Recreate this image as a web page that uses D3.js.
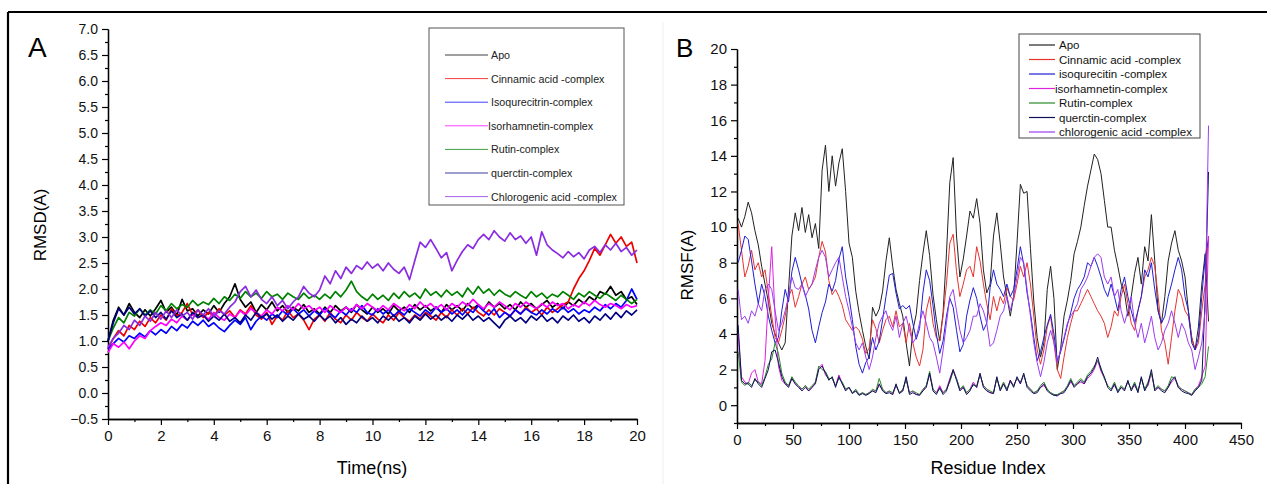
<!DOCTYPE html>
<html><head><meta charset="utf-8">
<script src="https://cdn.jsdelivr.net/npm/d3@7"></script>
<style>
body{margin:0;background:#fff;}
svg{display:block;font-family:"Liberation Sans",Arial,sans-serif;}
</style>
</head><body>
<svg id="c" width="1267" height="484"></svg>
<script>
// ---------- Panel A: RMSD (time step 0.2 ns, 0..20 ns) ----------
const rmsdNames = ["Apo","Cinnamic acid -complex","Isoqurecitrin-complex","Isorhamnetin-complex","Rutin-complex","querctin-complex","Chlorogenic acid -complex"];
const rmsdTimeStep = 0.2;
const rmsdApo = [1.00,1.40,1.65,1.50,1.72,1.55,1.45,1.60,1.48,1.62, 1.78,1.55,1.65,1.50,1.80,1.58,1.62,1.48,1.60,1.52, 1.68,1.55,1.72,1.85,2.10,1.80,1.65,1.75,1.55,1.70, 1.60,1.75,1.58,1.68,1.55,1.65,1.58,1.70,1.55,1.62, 1.52,1.65,1.55,1.68,1.58,1.65,1.55,1.70,1.60,1.52, 1.65,1.55,1.62,1.52,1.68,1.58,1.65,1.55,1.70,1.60, 1.68,1.58,1.65,1.55,1.70,1.60,1.68,1.58,1.72,1.62, 1.70,1.60,1.75,1.65,1.72,1.62,1.70,1.60,1.75,1.65, 1.72,1.62,1.70,1.78,1.65,1.72,1.62,1.75,1.68,1.80, 1.72,1.85,1.78,1.95,1.90,2.05,1.88,1.95,1.80,1.85, 1.70];
const rmsdCinnamic = [0.85,1.05,1.20,1.10,1.30,1.22,1.38,1.28,1.45,1.35, 1.50,1.40,1.62,1.48,1.55,1.72,1.50,1.60,1.45,1.55, 1.48,1.62,1.50,1.58,1.45,1.60,1.52,1.68,1.50,1.42, 1.55,1.32,1.48,1.40,1.58,1.45,1.52,1.40,1.22,1.42, 1.50,1.38,1.55,1.42,1.35,1.50,1.40,1.55,1.45,1.38, 1.52,1.42,1.35,1.50,1.40,1.55,1.45,1.38,1.50,1.42, 1.55,1.48,1.40,1.55,1.45,1.60,1.50,1.62,1.52,1.65, 1.55,1.48,1.60,1.50,1.62,1.55,1.48,1.60,1.52,1.65, 1.55,1.62,1.50,1.65,1.55,1.62,1.70,1.75,2.00,2.20, 2.35,2.55,2.78,2.65,2.85,3.05,2.88,3.00,2.82,2.90, 2.50];
const rmsdIsoquercitrin = [0.85,0.95,1.05,0.98,1.10,1.05,1.15,1.08,1.20,1.12, 1.22,1.15,1.28,1.20,1.32,1.25,1.38,1.30,1.40,1.28, 1.35,1.25,1.18,1.30,1.40,1.32,1.45,1.22,1.38,1.48, 1.40,1.52,1.45,1.58,1.50,1.62,1.52,1.60,1.48,1.58, 1.50,1.62,1.52,1.45,1.58,1.50,1.62,1.55,1.68,1.55, 1.50,1.62,1.52,1.60,1.48,1.58,1.50,1.62,1.55,1.48, 1.60,1.52,1.65,1.55,1.62,1.52,1.60,1.50,1.62,1.55, 1.68,1.58,1.50,1.62,1.45,1.55,1.48,1.60,1.52,1.62, 1.55,1.50,1.60,1.52,1.62,1.55,1.65,1.55,1.62,1.52, 1.60,1.55,1.65,1.58,1.70,1.62,1.72,1.65,1.78,2.00, 1.80];
const rmsdIsorhamnetin = [0.78,0.95,0.88,0.98,0.85,1.00,1.10,1.05,1.20,1.28, 1.35,1.30,1.42,1.35,1.48,1.40,1.52,1.45,1.50,1.42, 1.55,1.45,1.40,1.52,1.45,1.58,1.50,1.62,1.55,1.48, 1.60,1.52,1.65,1.58,1.68,1.60,1.72,1.62,1.68,1.58, 1.65,1.55,1.68,1.60,1.55,1.65,1.58,1.70,1.62,1.72, 1.65,1.58,1.68,1.60,1.72,1.65,1.58,1.70,1.62,1.75, 1.65,1.72,1.62,1.70,1.60,1.72,1.65,1.75,1.68,1.80, 1.70,1.62,1.72,1.65,1.75,1.68,1.60,1.72,1.65,1.75, 1.68,1.62,1.72,1.65,1.75,1.68,1.72,1.62,1.70,1.65, 1.75,1.68,1.78,1.70,1.65,1.72,1.68,1.62,1.70,1.65, 1.68];
const rmsdRutin = [1.00,1.25,1.45,1.35,1.55,1.48,1.62,1.50,1.60,1.52, 1.68,1.58,1.72,1.62,1.70,1.65,1.78,1.68,1.75,1.70, 1.82,1.72,1.85,1.78,1.90,1.82,1.95,1.85,1.92,1.82, 1.95,1.85,1.90,1.80,1.92,1.85,1.80,1.92,1.82,1.88, 1.80,1.90,1.82,1.95,1.85,1.98,2.15,1.95,1.85,1.78, 1.90,1.80,1.88,1.78,1.92,1.82,1.95,1.85,1.92,1.82, 2.00,1.88,1.95,1.85,1.98,1.88,1.95,1.85,2.02,1.90, 2.05,1.92,2.00,1.88,1.98,1.90,1.85,1.95,1.88,1.82, 1.95,1.85,1.92,1.82,1.90,1.85,1.95,1.88,1.80,1.92, 1.85,1.95,1.88,1.82,1.92,1.85,1.78,1.88,1.80,1.72, 1.80];
const rmsdQuerctin = [1.00,1.35,1.62,1.50,1.65,1.52,1.62,1.48,1.58,1.45, 1.55,1.42,1.58,1.45,1.52,1.40,1.55,1.45,1.50,1.38, 1.48,1.40,1.52,1.38,1.45,1.35,1.50,1.40,1.55,1.45, 1.52,1.42,1.50,1.38,1.48,1.40,1.52,1.42,1.48,1.38, 1.50,1.40,1.48,1.35,1.45,1.32,1.42,1.35,1.48,1.38, 1.45,1.35,1.48,1.40,1.50,1.38,1.45,1.35,1.48,1.40, 1.52,1.42,1.50,1.40,1.48,1.38,1.50,1.42,1.52,1.40, 1.48,1.38,1.45,1.35,1.25,1.40,1.48,1.38,1.45,1.35, 1.48,1.40,1.50,1.38,1.45,1.35,1.48,1.40,1.50,1.38, 1.45,1.35,1.48,1.40,1.52,1.42,1.55,1.45,1.58,1.50, 1.60];
const rmsdChlorogenic = [0.88,1.05,1.15,1.30,1.22,1.40,1.30,1.48,1.38,1.55, 1.42,1.58,1.45,1.60,1.48,1.55,1.42,1.60,1.50,1.62, 1.48,1.58,1.52,1.65,1.75,1.95,2.05,1.85,1.98,1.80, 1.72,1.85,1.68,1.78,1.62,1.75,1.85,2.05,1.92,1.85, 1.98,2.25,2.10,2.35,2.20,2.42,2.30,2.45,2.38,2.52, 2.40,2.48,2.35,2.50,2.38,2.30,2.42,2.18,2.55,2.90, 2.80,2.95,2.78,2.60,2.70,2.35,2.55,2.72,2.85,2.78, 2.95,3.05,2.95,3.12,3.00,2.92,3.08,2.95,3.02,2.88, 3.00,2.65,3.10,2.85,2.75,2.68,2.60,2.72,2.62,2.70, 2.58,2.75,2.82,2.70,2.85,2.75,2.88,2.72,2.80,2.65, 2.75];
const rmsdYTicks = [-0.5,0.0,0.5,1.0,1.5,2.0,2.5,3.0,3.5,4.0,4.5,5.0,5.5,6.0,6.5,7.0];
const rmsdXTicks = [0,2,4,6,8,10,12,14,16,18,20];

// ---------- Panel B: RMSF (residue 1, 4, 7, ... 421) ----------
const rmsfNames = ["Apo","Cinnamic acid -complex","isoqurecitin -complex","isorhamnetin-complex","Rutin-complex","querctin-complex","chlorogenic acid -complex"];
const rmsfResStart = 1, rmsfResStep = 3;
const rmsfApo = [10.5,10.0,10.6,11.4,10.8,9.8,9.0,7.8,6.8,5.8, 4.6,4.0,3.5,3.1,3.5,6.5,9.5,10.8,9.8,11.1, 9.7,10.7,9.4,10.2,8.8,13.2,14.6,12.0,14.0,12.3, 13.6,14.4,12.0,9.1,8.3,6.4,5.2,4.2,3.3,2.6, 5.5,5.0,5.4,6.4,8.1,9.4,7.8,6.5,5.7,5.0, 3.5,2.2,4.2,5.1,7.0,8.5,9.8,8.4,6.2,4.8, 3.6,5.2,8.5,12.5,13.9,9.5,7.2,8.2,9.5,10.9, 10.5,11.6,10.2,7.6,6.3,6.8,9.5,10.8,9.1,7.2, 6.1,5.0,6.1,9.1,12.4,11.9,12.0,8.8,5.8,3.8, 2.7,3.5,6.5,7.8,6.0,2.0,3.2,5.0,5.9,7.0, 8.5,9.2,10.0,11.2,12.3,13.2,14.1,13.8,13.0,11.5, 10.0,10.0,8.7,7.8,6.8,6.3,5.0,6.1,7.4,8.3, 6.8,8.9,8.1,10.7,8.1,5.3,4.6,6.1,8.1,9.1, 9.8,8.7,8.1,7.2,5.3,3.8,3.1,4.4,6.8,8.5, 4.7];
const rmsfCinnamic = [10.2,8.7,7.2,7.8,8.7,7.6,8.0,7.2,7.6,6.3, 5.0,3.8,3.5,4.2,5.0,6.1,6.5,5.5,6.1,6.8, 7.2,6.5,6.8,7.2,8.3,9.2,8.6,7.0,6.2,6.5, 6.1,5.6,4.8,4.5,4.2,4.4,4.2,3.7,2.9,3.2, 4.8,4.3,3.5,4.2,4.8,5.0,4.4,5.3,4.4,4.6, 3.5,4.6,3.5,2.7,2.2,3.1,5.3,6.1,4.6,3.8, 3.6,5.0,6.8,9.1,9.6,7.5,6.1,6.8,7.6,7.8, 7.2,8.9,8.1,6.8,5.7,4.8,6.1,5.3,6.1,5.7, 6.6,6.1,5.9,6.8,7.8,7.2,8.0,6.8,5.0,3.1, 2.3,3.1,4.4,5.0,3.5,2.0,1.5,2.7,3.8,4.6, 5.3,5.3,5.7,6.1,6.5,6.1,5.7,5.3,5.0,4.6, 3.8,4.4,5.3,5.0,6.1,6.8,5.7,4.6,4.2,5.3, 6.1,7.2,7.6,8.3,7.8,6.1,4.2,3.5,2.3,3.8, 5.3,6.5,6.1,5.3,5.0,3.8,3.1,3.5,5.3,6.8, 9.5];
const rmsfIsoqurecitin = [8.0,8.7,9.5,9.3,8.1,6.8,5.7,6.8,6.1,5.0, 4.2,3.5,3.8,5.3,6.5,5.8,7.5,8.3,7.6,6.8, 6.2,5.4,4.2,3.5,4.4,5.2,5.8,6.8,6.4,7.0, 8.2,8.9,7.2,6.1,4.8,3.3,2.3,1.8,2.4,2.7, 3.8,3.1,3.6,4.8,6.1,7.3,7.4,6.3,5.4,5.6, 5.4,5.6,4.6,3.7,4.3,6.3,7.6,7.0,5.6,4.0, 2.9,3.6,5.0,6.0,5.5,4.2,3.0,3.4,5.0,5.9, 6.6,6.0,5.0,4.2,4.6,6.6,7.6,6.8,6.5,6.1, 6.8,6.1,6.5,7.6,8.9,7.9,6.3,5.2,3.8,2.5, 3.0,3.8,4.5,5.1,4.0,2.5,3.0,3.7,4.5,5.2, 6.0,6.5,6.8,7.2,8.0,7.8,8.3,7.8,7.2,6.5, 6.1,6.8,6.1,5.3,6.5,7.2,6.1,5.3,4.6,5.3, 6.1,7.6,7.2,8.0,6.5,5.3,4.6,5.0,6.1,6.8, 7.6,8.3,7.6,6.1,5.3,3.5,3.1,3.8,6.1,8.3, 9.3];
const rmsfIsorhamnetin = [4.0,1.6,1.3,1.2,1.8,2.0,1.3,1.2,2.5,6.0, 8.9,5.0,2.2,1.4,1.2,1.1,1.5,1.2,1.0,0.9, 1.1,0.8,1.0,1.3,2.1,2.3,1.7,1.5,1.5,1.1, 1.7,1.2,0.9,1.0,0.7,0.8,0.6,0.7,0.6,0.7, 0.8,0.8,1.1,0.9,0.7,0.8,0.6,1.1,0.7,0.8, 1.5,0.7,0.8,0.6,0.6,0.8,1.1,1.7,0.9,0.7, 1.1,0.7,0.9,1.5,2.0,1.5,0.9,1.0,0.7,0.9, 1.3,1.0,1.7,1.1,0.9,0.7,0.7,1.5,0.9,1.2, 0.9,1.4,1.1,1.5,1.2,1.7,1.1,0.9,0.7,0.8, 1.0,1.1,0.9,0.7,0.6,0.5,0.7,0.8,1.0,1.3, 1.1,1.2,1.3,1.2,1.5,1.7,2.0,2.5,1.9,1.5, 1.1,0.9,1.1,0.8,1.0,0.9,1.3,0.9,1.1,0.8, 1.5,0.9,1.1,1.8,0.9,1.0,0.9,0.8,1.0,1.3, 1.5,1.0,0.9,0.8,0.7,0.6,0.9,1.1,1.6,2.2, 9.5];
const rmsfRutin = [3.0,1.3,1.1,1.3,1.1,1.4,1.3,1.1,1.6,2.3, 2.6,3.5,2.9,1.8,1.3,1.1,1.6,1.3,1.1,0.9, 1.1,0.9,1.1,1.3,2.2,2.0,1.9,1.5,1.5,1.1, 1.5,1.3,0.9,1.0,0.7,0.9,0.6,0.7,0.6,0.7, 0.9,0.8,1.5,0.9,0.7,0.8,0.7,1.1,0.7,0.9, 1.4,0.7,0.8,0.7,0.6,0.9,1.1,1.9,0.9,0.7, 0.9,0.7,0.9,1.3,1.9,1.5,0.9,1.1,0.7,0.9, 1.1,1.1,1.7,1.1,0.9,0.8,0.7,1.5,0.9,1.3, 0.9,1.3,1.1,1.5,1.3,1.7,1.1,0.9,0.7,0.8, 1.1,1.3,0.9,0.7,0.6,0.6,0.7,0.8,1.1,1.5, 1.1,1.3,1.5,1.3,1.7,1.9,2.2,2.5,2.1,1.5, 1.1,0.9,1.3,0.8,1.1,0.9,1.3,0.9,1.3,0.8, 1.5,0.9,1.3,1.8,0.9,1.1,0.9,0.8,1.1,1.6, 1.5,1.1,0.9,0.8,0.7,0.6,0.9,1.0,1.2,1.6, 3.3];
const rmsfQuerctin = [4.5,1.4,1.2,1.2,1.0,1.5,1.2,1.0,1.5,2.0, 3.0,3.1,2.4,1.6,1.2,1.0,1.5,1.2,1.0,0.8, 1.0,0.8,1.0,1.2,2.0,2.2,1.8,1.4,1.6,1.0, 1.6,1.2,0.8,1.0,0.65,0.8,0.55,0.65,0.55,0.65, 0.8,0.7,1.2,0.8,0.65,0.7,0.6,1.2,0.65,0.8, 1.6,0.6,0.7,0.6,0.55,0.8,1.0,1.8,0.8,0.6, 1.0,0.6,0.8,1.4,2.0,1.4,0.8,1.0,0.6,0.8, 1.2,1.0,1.8,1.0,0.8,0.7,0.65,1.6,0.8,1.2, 0.8,1.4,1.0,1.6,1.2,1.8,1.0,0.8,0.65,0.7, 1.0,1.2,0.8,0.65,0.55,0.55,0.65,0.7,1.0,1.4, 1.0,1.2,1.4,1.2,1.6,1.8,2.1,2.7,2.0,1.6, 1.0,0.8,1.2,0.7,1.0,0.8,1.4,0.8,1.2,0.7, 1.6,0.8,1.2,2.0,0.8,1.0,0.8,0.7,1.0,1.4, 1.6,1.0,0.8,0.7,0.65,0.55,0.8,1.0,1.4,6.0, 13.1];
const rmsfChlorogenic = [6.5,4.8,5.0,4.6,5.3,5.0,5.7,5.3,6.5,6.8, 6.5,5.3,4.2,4.6,5.3,6.1,7.2,6.6,6.5,6.8, 6.1,6.5,6.8,7.6,8.3,8.7,8.3,7.2,7.6,8.0, 8.3,7.2,6.1,5.3,4.4,3.5,3.1,3.5,2.7,2.0, 2.7,3.8,4.6,5.0,5.3,4.6,4.2,5.0,3.8,4.6, 5.0,4.2,3.5,3.8,4.6,5.3,4.6,3.8,3.5,2.7, 1.8,3.1,4.6,6.1,6.5,5.3,4.2,3.5,3.8,4.2, 5.0,5.0,5.7,5.3,4.6,3.3,3.5,4.2,5.0,5.3, 6.1,5.3,6.1,7.2,8.3,8.0,6.5,5.0,3.5,2.4, 1.6,2.4,3.5,4.2,3.5,2.4,3.1,3.8,4.6,5.0, 5.3,5.7,6.5,6.8,7.2,7.8,8.3,8.5,8.3,7.2, 6.8,7.2,6.1,6.5,5.3,4.6,5.3,6.1,4.6,3.8, 4.6,3.5,4.2,5.0,3.8,3.1,3.5,4.2,4.6,5.3, 4.6,3.8,4.6,4.2,3.5,3.1,2.0,2.7,3.5,5.3, 15.7];
const rmsfYTicks = [0,2,4,6,8,10,12,14,16,18,20];
const rmsfXTicks = [0,50,100,150,200,250,300,350,400,450];

// ---------- styles ----------
const rmsdColors = ["#000000","#ee0000","#0000ff","#ff00ff","#008000","#000080","#8a2be2"];
const rmsfColors = ["#222222","#e8332e","#1e1ed6","#e020e0","#2a8a2a","#10105a","#9b3cf0"];

const svg = d3.select("#c");
const font = '"Liberation Sans", Arial, sans-serif';

// frame
svg.append("line").attr("x1",8).attr("x2",1267).attr("y1",12).attr("y2",12).attr("stroke","#000").attr("stroke-width",2.2);
svg.append("line").attr("x1",8).attr("x2",8).attr("y1",12).attr("y2",484).attr("stroke","#000").attr("stroke-width",2.2);
svg.append("line").attr("x1",663).attr("x2",663).attr("y1",22).attr("y2",484).attr("stroke","#eeeeee").attr("stroke-width",1);

function styleAxis(g, size){
  g.selectAll("path.domain").attr("stroke","#000").attr("stroke-width",1.3);
  g.selectAll(".tick line").attr("stroke","#000").attr("stroke-width",1.2);
  g.selectAll("text").attr("font-family",font).attr("font-size",size).attr("fill","#111");
}

// ===== Panel A =====
{
  const x = d3.scaleLinear().domain([0,20]).range([108,637]);
  const y = d3.scaleLinear().domain([-0.5,7.0]).range([419,29]);
  const minorY = d3.range(-0.5, 7.01, 0.25).filter(v => Math.abs(v*2 - Math.round(v*2)) > 1e-6);
  const minorX = d3.range(1, 20, 2);

  svg.append("g").attr("transform","translate(108,0)")
    .call(d3.axisLeft(y).tickValues(minorY).tickSize(3).tickSizeOuter(0).tickFormat(""))
    .call(g=>styleAxis(g,14));
  svg.append("g").attr("transform","translate(108,0)")
    .call(d3.axisLeft(y).tickValues(rmsdYTicks).tickSize(6).tickSizeOuter(0).tickPadding(4).tickFormat(d3.format(".1f")))
    .call(g=>styleAxis(g,14));
  svg.append("g").attr("transform","translate(0,419)")
    .call(d3.axisBottom(x).tickValues(minorX).tickSize(3).tickSizeOuter(0).tickFormat(""))
    .call(g=>styleAxis(g,14));
  svg.append("g").attr("transform","translate(0,419)")
    .call(d3.axisBottom(x).tickValues(rmsdXTicks).tickSize(6).tickSizeOuter(0).tickPadding(5).tickFormat(d3.format("d")))
    .call(g=>styleAxis(g,15));

  const series = [rmsdApo, rmsdCinnamic, rmsdIsoquercitrin, rmsdIsorhamnetin, rmsdRutin, rmsdQuerctin, rmsdChlorogenic];
  const line = d3.line().x((d,i)=>x(i*rmsdTimeStep)).y(d=>y(d));
  series.forEach((s,k)=>{
    svg.append("path").datum(s).attr("d",line).attr("fill","none")
      .attr("stroke",rmsdColors[k]).attr("stroke-width",1.7).attr("stroke-linejoin","round");
  });

  svg.append("text").attr("x",28).attr("y",57).attr("font-family",font).attr("font-size",28).text("A");
  svg.append("text").attr("transform","translate(46,225) rotate(-90)").attr("text-anchor","middle")
    .attr("font-family",font).attr("font-size",17).text("RMSD(A)");
  svg.append("text").attr("x",372).attr("y",474).attr("text-anchor","middle")
    .attr("font-family",font).attr("font-size",18).text("Time(ns)");

  // legend
  const lg = svg.append("g");
  lg.append("rect").attr("x",429).attr("y",28).attr("width",195).attr("height",177)
    .attr("fill","#fff").attr("stroke","#555").attr("stroke-width",1);
  rmsdNames.forEach((n,k)=>{
    const yy = 55 + k*23.6;
    lg.append("line").attr("x1",445).attr("x2",488).attr("y1",yy).attr("y2",yy)
      .attr("stroke",rmsdColors[k]).attr("stroke-width",1).attr("opacity",0.75);
    lg.append("text").attr("x",k===3?488:491).attr("y",yy+4).attr("font-family",font).attr("font-size",10.7)
      .attr("fill","#222").text(n);
  });
}

// ===== Panel B =====
{
  const x = d3.scaleLinear().domain([0,450]).range([737,1241]);
  const y = d3.scaleLinear().domain([-1,20]).range([423,49]);
  const minorY = d3.range(-1, 20, 2);
  const minorX = d3.range(25, 450, 50);

  svg.append("g").attr("transform","translate(737,0)")
    .call(d3.axisLeft(y).tickValues(minorY).tickSize(3).tickSizeOuter(0).tickFormat(""))
    .call(g=>styleAxis(g,14));
  svg.append("g").attr("transform","translate(737,0)")
    .call(d3.axisLeft(y).tickValues(rmsfYTicks).tickSize(6).tickSizeOuter(0).tickPadding(4).tickFormat(d3.format("d")))
    .call(g=>styleAxis(g,15));
  svg.append("g").attr("transform","translate(0,423)")
    .call(d3.axisBottom(x).tickValues(minorX).tickSize(3).tickSizeOuter(0).tickFormat(""))
    .call(g=>styleAxis(g,14));
  svg.append("g").attr("transform","translate(0,423)")
    .call(d3.axisBottom(x).tickValues(rmsfXTicks).tickSize(6).tickSizeOuter(0).tickPadding(5).tickFormat(d3.format("d")))
    .call(g=>styleAxis(g,15));

  const series = [rmsfApo, rmsfCinnamic, rmsfIsoqurecitin, rmsfIsorhamnetin, rmsfRutin, rmsfQuerctin, rmsfChlorogenic];
  const line = d3.line().x((d,i)=>x(rmsfResStart + i*rmsfResStep)).y(d=>y(d));
  series.forEach((s,k)=>{
    svg.append("path").datum(s).attr("d",line).attr("fill","none")
      .attr("stroke",rmsfColors[k]).attr("stroke-width",1).attr("stroke-linejoin","round");
  });

  svg.append("text").attr("x",676).attr("y",57).attr("font-family",font).attr("font-size",26).text("B");
  svg.append("text").attr("transform","translate(693,265) rotate(-90)").attr("text-anchor","middle")
    .attr("font-family",font).attr("font-size",17).text("RMSF(A)");
  svg.append("text").attr("x",988).attr("y",474).attr("text-anchor","middle")
    .attr("font-family",font).attr("font-size",18).text("Residue Index");

  const lg = svg.append("g");
  lg.append("rect").attr("x",1019).attr("y",34).attr("width",181).attr("height",104)
    .attr("fill","#fff").attr("stroke","#444").attr("stroke-width",1);
  rmsfNames.forEach((n,k)=>{
    const yy = 45 + k*14.5;
    lg.append("line").attr("x1",1029).attr("x2",1055).attr("y1",yy).attr("y2",yy)
      .attr("stroke",rmsfColors[k]).attr("stroke-width",1.2);
    lg.append("text").attr("x",k===3?1055:1059).attr("y",yy+4).attr("font-family",font).attr("font-size",11.5)
      .attr("fill","#111").text(n);
  });
}
</script>
</body></html>
